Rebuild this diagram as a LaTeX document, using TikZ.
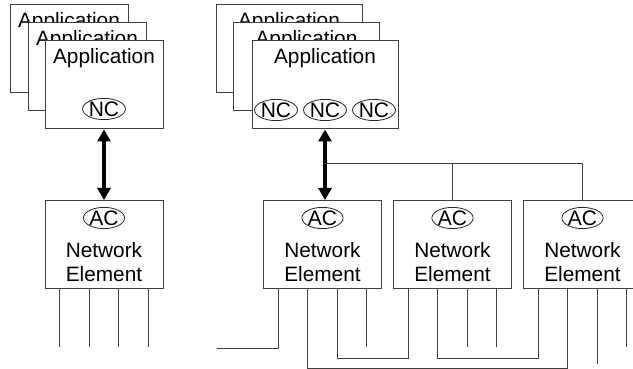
\documentclass[tikz,border=0pt]{standalone}
\usepackage{fontspec}
\setmainfont{Liberation Sans}
\usetikzlibrary{positioning, arrows.meta, shapes.geometric}
\tikzset{
box/.style={draw=black!75, fill=white, line width=1pt, minimum width=118pt, minimum height=88pt, inner sep=0pt}, % plain box
wide box/.style={box, minimum width=146pt}, % application box on the right
ctrl/.style={ellipse, draw=black!85, line width=0.8pt, inner sep=0pt, text height=15pt, text depth=0pt, font=\fontsize{21}{24}\selectfont}, % NC and AC
txt/.style={font=\fontsize{20.8}{24}\selectfont, align=center, inner sep=0pt}, % labels
link/.style={draw=black!75, line width=1pt}, % thin wires
bus/.style={line width=3.6pt, {Triangle[width=13pt,length=12pt]}-{Triangle[width=13pt,length=12pt]}}, % fat double arrow
}

\begin{document}
\begin{tikzpicture}[x=1pt, y=-1pt]
\useasboundingbox (0,0) rectangle (633,369);
\clip (0,0) rectangle (633,369);
% left side
\node[box] (la1) at (69,49) {};
\node[txt] at ([yshift=-18pt]la1.north) {Application};
\node[box] (la2) at (87,67) {};
\node[txt] at ([yshift=-18pt]la2.north) {Application};
\node[box] (la3) at (104,85) {};
\node[txt] at ([yshift=-18pt]la3.north) {Application};
\node[ctrl] (lnc) at (104,109) {NC};

\node[box] (lne) at (104,244.5) {};
\node[ctrl] (lac) at (104,218) {AC};
\node[txt] at (104,262) {Network\\Element};

% right side
\node[wide box] (ra1) at (289,49) {};
\node[txt] at ([yshift=-18pt]ra1.north) {Application};
\node[wide box] (ra2) at (306.5,67) {};
\node[txt] at ([yshift=-18pt]ra2.north) {Application};
\node[wide box] (ra3) at (325,85) {};
\node[txt] at ([yshift=-18pt]ra3.north) {Application};
\node[ctrl] (nc1) at (276,110) {NC};
\node[ctrl] (nc2) at (325,110) {NC};
\node[ctrl] (nc3) at (374,110) {NC};

\foreach \n/\x in {ne1/322.5, ne2/452.5, ne3/582.5} {
  \node[box] (\n) at (\x,244.5) {};
  \node[ctrl] (\n-ac) at (\x,218) {AC};
  \node[txt] at (\x,262) {Network\\Element};
}

% ports under each element
\foreach \n in {lne,ne1,ne2,ne3}
  \foreach \i/\dx in {1/-44.25, 2/-14.75, 3/14.75, 4/44.25}
    \coordinate (\n-p\i) at ([xshift=\dx pt]\n.south);

\draw[bus] (la3.south) -- (lne.north);
\draw[bus] (ra3.south) -- (ra3.south |- ne1.north);

\coordinate (tap) at (325,164);
\draw[link] (tap) -| (ne2.north);
\draw[link] (tap) -| (ne3.north);

\foreach \i in {1,...,4}
  \draw[link] (lne-p\i) -- ++(0,58);

\coordinate (lan) at (217,348);
\draw[link] (ne1-p1) |- (lan);
\draw[link] (ne1-p2) -- ++(0,79) -| (ne3-p2);
\draw[link] (ne1-p3) -- ++(0,69) -| (ne2-p1);
\draw[link] (ne1-p4) -- ++(0,58);
\draw[link] (ne2-p2) -- ++(0,69) -| (ne3-p1);
\draw[link] (ne2-p3) -- ++(0,58);
\draw[link] (ne2-p4) -- ++(0,58);
\draw[link] (ne3-p3) -- ++(0,75);
\draw[link] (ne3-p4) -- ++(0,58);
\end{tikzpicture}
\end{document}
